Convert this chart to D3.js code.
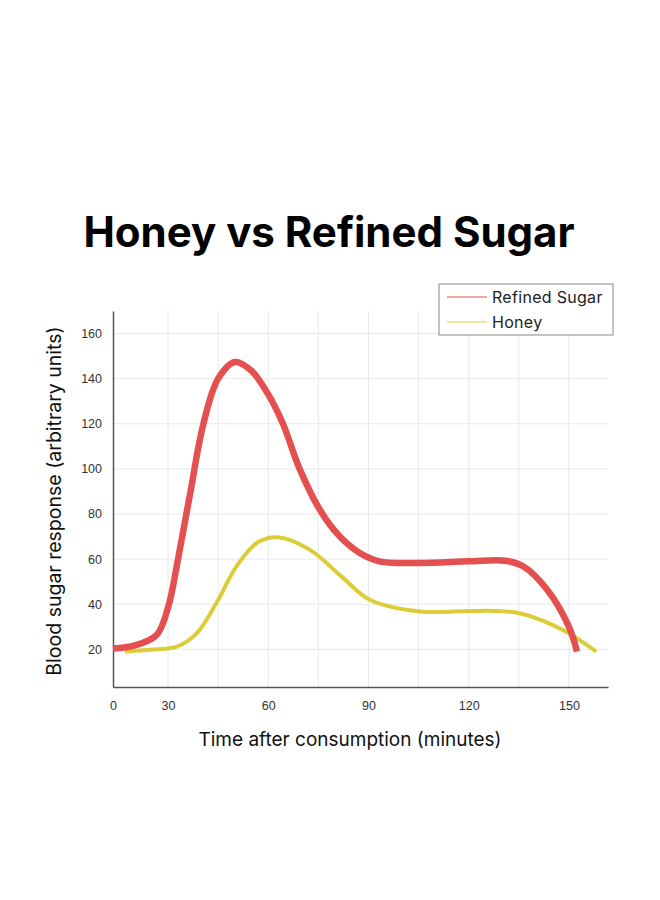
<!DOCTYPE html>
<html>
<head>
<meta charset="utf-8">
<script src="https://cdn.jsdelivr.net/npm/d3@7"></script>
<style>
  body { margin: 0; background: #fff; }
  svg { display: block; font-family: "Inter", "Open Sans", sans-serif; }
</style>
</head>
<body>
<svg id="chart" width="660" height="900"></svg>
<script>
// data (minutes, arbitrary units)
var sugarTime  = [0, 12, 23.8, 30.1, 33, 36.5, 40.6, 45, 50, 55, 60, 64.4, 69.4, 75.4, 81.3, 87.3, 93.3, 105.2, 120, 131, 136.3, 143.5, 150, 152.4];
var sugarValue = [20.4, 21.8, 26.4, 39, 60, 88, 120, 140, 147.4, 143.5, 133, 120, 100, 82, 70.2, 62.8, 59, 58.3, 59, 59.3, 56.8, 46.4, 30, 19];
var honeyTime  = [6.5, 20, 32.6, 38.6, 44.5, 50.5, 57, 63, 72.4, 82.3, 90.4, 105.4, 120, 128.3, 135.3, 148.2, 158.2];
var honeyValue = [19, 19.8, 21.2, 27.1, 40.5, 56.8, 67.6, 69.7, 64.2, 51.8, 42, 36.8, 37, 37, 36, 28.6, 19];
var xTicks = [0, 30, 60, 90, 120, 150];
var xGrid = [30, 45, 60, 75, 90, 105, 120, 135, 150];
var yTicks = [20, 40, 60, 80, 100, 120, 140, 160];
var seriesNames = ["Refined Sugar", "Honey"];
var seriesColors = ["#e4504f", "#dccd38"];

var svg = d3.select("#chart");

var margin = { left: 113, top: 311, right: 608, bottom: 687 };

// the first 30 minutes are squeezed in the original
var x = d3.scaleLinear()
    .domain([0, 30, 161.7])
    .range([margin.left, 168, margin.right]);
var y = d3.scaleLinear()
    .domain([3.3, 170])
    .range([margin.bottom, margin.top]);

// title
svg.append("text")
    .attr("x", 329)
    .attr("y", 247)
    .attr("text-anchor", "middle")
    .style("font-size", "42px")
    .style("font-weight", 700)
    .attr("fill", "#000")
    .text("Honey vs Refined Sugar");

// grid
svg.append("g").selectAll("line")
    .data(yTicks)
    .enter().append("line")
    .attr("x1", margin.left).attr("x2", margin.right)
    .attr("y1", function (d) { return y(d); })
    .attr("y2", function (d) { return y(d); })
    .attr("stroke", "#e8e8e8");

svg.append("g").selectAll("line")
    .data(xGrid)
    .enter().append("line")
    .attr("y1", margin.top).attr("y2", margin.bottom)
    .attr("x1", function (d) { return x(d); })
    .attr("x2", function (d) { return x(d); })
    .attr("stroke", "#e8e8e8");

// axes
var xAxis = d3.axisBottom(x).tickValues(xTicks).tickSize(0).tickPadding(14);
var yAxis = d3.axisLeft(y).tickValues(yTicks).tickSize(0).tickPadding(11);

var gx = svg.append("g")
    .attr("transform", "translate(0," + margin.bottom + ")")
    .call(xAxis);
var gy = svg.append("g")
    .attr("transform", "translate(" + margin.left + ",0)")
    .call(yAxis);

[gx, gy].forEach(function (g) {
    g.select(".domain").attr("stroke", "#555").attr("stroke-width", 1.5);
    g.selectAll("text").attr("fill", "#333").style("font-size", "12.5px");
});

// axis titles
svg.append("text")
    .attr("x", 350)
    .attr("y", 746)
    .attr("text-anchor", "middle")
    .style("font-size", "19px")
    .attr("fill", "#111")
    .text("Time after consumption (minutes)");

svg.append("text")
    .attr("transform", "translate(61,501) rotate(-90)")
    .attr("text-anchor", "middle")
    .style("font-size", "19.5px")
    .attr("fill", "#111")
    .text("Blood sugar response (arbitrary units)");

// lines
var line = d3.line()
    .x(function (d) { return x(d[0]); })
    .y(function (d) { return y(d[1]); })
    .curve(d3.curveCatmullRom.alpha(0.5));

var honey = d3.zip(honeyTime, honeyValue);
var sugar = d3.zip(sugarTime, sugarValue);

svg.append("path")
    .datum(honey)
    .attr("d", line)
    .attr("fill", "none")
    .attr("stroke", seriesColors[1])
    .attr("stroke-width", 4)
    .attr("stroke-linecap", "butt");

svg.append("path")
    .datum(sugar)
    .attr("d", line)
    .attr("fill", "none")
    .attr("stroke", seriesColors[0])
    .attr("stroke-width", 6.5)
    .attr("stroke-linecap", "butt");

// legend
var legend = svg.append("g").attr("transform", "translate(439,284)");
legend.append("rect")
    .attr("width", 174).attr("height", 51)
    .attr("fill", "#fff")
    .attr("stroke", "#888");

var items = legend.selectAll("g.item")
    .data(seriesNames)
    .enter().append("g")
    .attr("class", "item")
    .attr("transform", function (d, i) { return "translate(0," + (13 + i * 25) + ")"; });

items.append("line")
    .attr("x1", 8).attr("x2", 48)
    .attr("stroke", function (d, i) { return seriesColors[i]; })
    .attr("stroke-width", 1.2);

items.append("text")
    .attr("x", 53)
    .attr("dy", "0.35em")
    .style("font-size", "16px")
    .style("letter-spacing", "0.3px")
    .attr("fill", "#222")
    .text(function (d) { return d; });
</script>
</body>
</html>
